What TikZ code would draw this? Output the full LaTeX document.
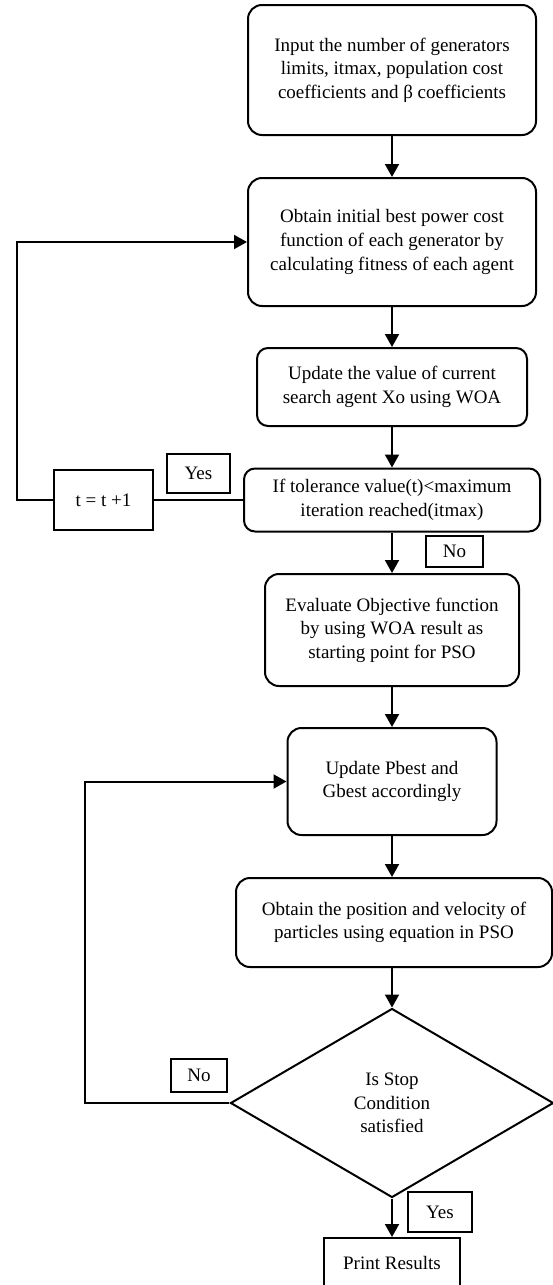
\documentclass[tikz,border=0pt]{standalone}
\usepackage{fontspec}
\setmainfont{Liberation Serif}
\usetikzlibrary{shapes.geometric,arrows.meta}

\begin{document}
\begin{tikzpicture}[x=1pt,y=-1pt,line width=2pt,
	every node/.style={font=\fontsize{19}{23.6}\selectfont,align=center,inner sep=0pt},
	proc/.style={draw,rounded corners=14pt},
	flag/.style={draw},
	cond/.style={draw,diamond},
	arr/.style={-{Triangle[width=14pt,length=13pt]}}]
	\useasboundingbox (0,0) rectangle (553,1285);
	\node[proc,minimum width=288pt,minimum height=130pt] (inp) at (392,70) {Input the number of generators\\limits, itmax, population cost\\coefficients and β coefficients};
	\node[proc,minimum width=288pt,minimum height=128pt] (init) at (392,242) {Obtain initial best power cost\\function of each generator by\\calculating fitness of each agent};
	\node[proc,rounded corners=11pt,minimum width=270pt,minimum height=78pt] (upd) at (392,387) {Update the value of current\\search agent Xo using WOA};
	\node[proc,rounded corners=11pt,minimum width=296pt,minimum height=63pt] (tol) at (392,500) {If tolerance value(t)<maximum\\iteration reached(itmax)};
	\node[flag,minimum width=99pt,minimum height=60pt] (tinc) at (103.5,500) {t = t +1};
	\node[flag,minimum width=63pt,minimum height=39pt] (yes1) at (198.5,473.5) {Yes};
	\node[flag,minimum width=57pt,minimum height=31pt] (no1) at (454.5,551.5) {No};
	\node[proc,minimum width=254pt,minimum height=112pt] (eval) at (392,630) {Evaluate Objective function\\by using WOA result as\\starting point for PSO};
	\node[proc,minimum width=209pt,minimum height=107pt] (pbest) at (392,781.5) {Update Pbest and\\Gbest accordingly};
	\node[proc,minimum width=316pt,minimum height=89pt] (pos) at (394,922.5) {Obtain the position and velocity of\\particles using equation in PSO};
	\node[cond,minimum width=323pt,minimum height=189pt] (stop) at (392,1103) {Is Stop\\Condition\\satisfied};
	\node[flag,minimum width=56pt,minimum height=33pt] (no2) at (199,1075.5) {No};
	\node[flag,minimum width=64pt,minimum height=40pt] (yes2) at (440,1212) {Yes};
	\node[flag,minimum width=136pt,minimum height=50pt] (print) at (392,1263) {Print Results};
	\draw[arr] (inp) -- (init);
	\draw[arr] (init) -- (upd);
	\draw[arr] (upd) -- (tol);
	\draw[arr] (tol) -- (eval);
	\draw[arr] (eval) -- (pbest);
	\draw[arr] (pbest) -- (pos.north -| pbest);
	\draw[arr] (pos.south -| stop) -- (stop);
	\draw[arr] (stop) -- (print);
	\coordinate (lp1) at (17,500);
	\coordinate (lp2) at (85,1103);
	\draw (tol) -- (tinc);
	\draw[arr] (tinc) -- (lp1) |- (init);
	\draw[arr] (stop) -- (lp2) |- (pbest);
\end{tikzpicture}
\end{document}
